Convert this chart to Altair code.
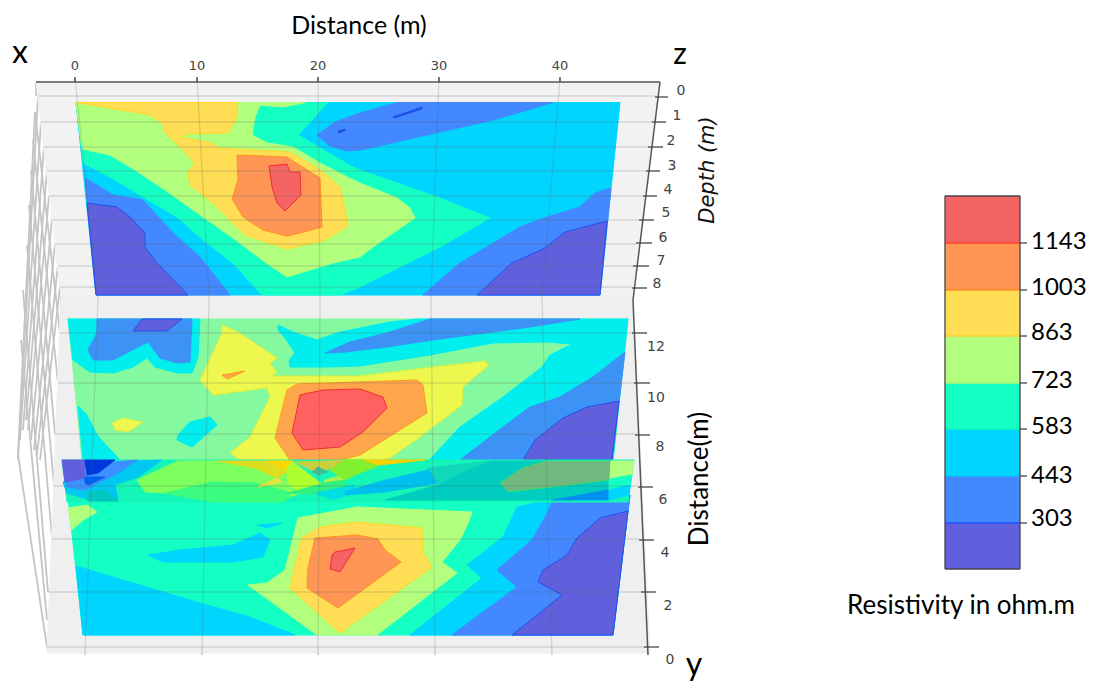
import altair as alt
import pandas as pd

# ---------- palette ----------
DARK, BLUE, CYAN, AQUA, LIME, YELL, ORNG, RED = ("#6060DD", "#4488FF", "#00D5FF", "#14FFC4",
                                                 "#B2FF7E", "#FFDD55", "#FF9655", "#F56464")
M_GREEN, M_CYAN, M_BLUE, M_YELL, M_ORNG, M_RED = ("#85F9A0", "#00EEEE", "#3D92F5", "#EDF74D", "#FFA64D", "#FF6060")

# ---------- panes ----------
pane_top = [(36, 82), (660, 82), (633, 296), (61, 296)]
pane_low = [(61, 296), (633, 296), (650, 653), (47, 653)]

# ---------- top slice contours ----------
t_base = [(76, 102.5), (620, 102.5), (600, 295), (96, 295)]
t_aqua = [(83, 163), (110, 177), (143, 197), (177, 217), (203, 240), (233, 263), (262, 295), (340, 295), (360, 287),
          (440, 247), (490, 218), (437, 197), (360, 170), (353, 167), (320, 148), (298, 135), (328, 102.5), (76, 102.5)]
t_lime = [(76, 102.5), (82, 149), (110, 155), (135, 170), (165, 190), (200, 215), (233, 238), (265, 262), (287, 277),
          (333, 263), (360, 257), (373, 247), (393, 233), (415, 218), (410, 208), (397, 198), (360, 183), (347, 177),
          (320, 163), (293, 147), (267, 143), (252, 135), (255, 117), (260, 105), (283, 107), (305, 102.5)]
t_yell = [(76, 102.5), (237, 102.5), (237, 117), (228, 133), (187, 134), (180, 137), (213, 143), (218, 148), (290, 152),
          (320, 170), (340, 187), (348, 226), (325, 240), (287, 249), (245, 235), (215, 205), (190, 185), (188, 172),
          (195, 163), (178, 145), (165, 133), (163, 124), (150, 115)]
t_orng = [(237, 155), (287, 157), (307, 170), (320, 178), (322, 227), (300, 233), (287, 236), (263, 230), (243, 217),
          (232, 199), (238, 180)]
t_red = [(269, 166), (287, 164), (290, 172), (300, 172), (301, 195), (285, 211), (277, 203), (272, 187)]
t_blue_l = [(85, 178), (113, 195), (143, 200), (173, 233), (200, 257), (230, 295), (96, 295)]
t_dark_l = [(87, 203), (117, 207), (130, 217), (145, 233), (145, 247), (157, 263), (188, 295), (96, 295)]
t_blue_top = [(398, 102.5), (360, 113), (335, 122), (317, 135), (330, 146), (347, 151), (360, 150), (383, 145), (440, 132),
              (493, 120), (553, 102.5)]
t_speck1 = [(338, 131), (345, 129), (345, 130.5), (339, 133)]
t_speck2 = [(393, 117), (422, 107), (422, 109), (394, 118)]
t_blue_r = [(423, 295), (460, 263), (520, 227), (547, 217), (580, 207), (595, 193), (611, 188), (600, 295)]
t_dark_r = [(477, 295), (512, 263), (545, 248), (565, 232), (607, 221), (600, 295)]

# ---------- bottom slice contours ----------
b_base = [(68, 497), (630, 495), (613, 635), (83, 635)]
b_lime_l = [(68, 508), (87, 505), (97, 512), (83, 520), (72, 530)]
b_cyan_l = [(76, 566), (133, 583), (200, 603), (250, 617), (295, 635), (83, 635)]
b_blob = [(148, 555), (180, 550), (233, 545), (260, 533), (270, 540), (263, 557), (233, 562), (163, 562)]
b_blob2 = [(257, 525), (282, 523), (267, 528)]
b_lime = [(298, 518), (357, 507), (472, 512), (468, 523), (460, 540), (442, 562), (457, 573), (377, 635), (317, 635),
          (248, 585), (267, 583), (285, 570), (292, 542)]
b_yell = [(302, 538), (320, 527), (357, 522), (422, 528), (423, 553), (432, 567), (340, 633), (290, 588), (300, 545)]
b_orng = [(315, 538), (357, 535), (378, 539), (385, 550), (401, 562), (338, 608), (307, 588), (308, 568)]
b_red = [(335, 552), (355, 548), (340, 572), (330, 569), (332, 555)]
b_cyan_r = [(517, 507), (503, 537), (467, 565), (482, 578), (410, 635), (613, 635), (630, 495), (558, 498)]
b_blue_r = [(630, 495), (553, 500), (548, 512), (532, 540), (497, 570), (517, 587), (452, 635), (613, 635)]
b_dark_r = [(628, 511), (600, 518), (577, 538), (567, 555), (543, 570), (538, 582), (562, 595), (512, 635), (613, 635)]

# ---------- middle slice contours ----------
m_base = [(68, 319), (628, 319), (612, 470), (83, 470)]
m_cyan_l = [(68, 319), (200, 319), (198, 357), (192, 373), (177, 373), (155, 367), (147, 358), (133, 367), (113, 373),
            (90, 372), (73, 360)]
m_blue_l = [(97, 319), (192, 319), (190, 362), (177, 363), (160, 358), (148, 342), (113, 360), (93, 360), (88, 350), (97, 333)]
m_dark_l = [(142, 319), (182, 319), (167, 331), (133, 331)]
m_cyan_c = [(278, 325), (293, 332), (317, 340), (340, 332), (390, 322), (417, 319), (628, 319), (612, 470), (420, 470),
            (460, 427), (503, 397), (542, 367), (550, 355), (572, 344), (547, 342), (493, 343), (430, 355), (360, 366),
            (330, 367), (290, 367), (289, 360), (295, 353), (285, 338), (278, 330)]
m_blue_c = [(325, 353), (350, 342), (387, 333), (430, 319), (580, 319), (530, 327), (432, 340), (387, 347), (345, 352)]
m_cyan_ll = [(78, 406), (87, 415), (97, 435), (120, 460), (83, 460)]
m_blob_c = [(178, 435), (190, 422), (210, 417), (217, 425), (200, 440), (192, 447), (177, 440)]
m_blob_y = [(112, 423), (123, 418), (143, 422), (128, 432), (115, 430)]
m_yell = [(222, 325), (240, 333), (277, 358), (270, 363), (277, 372), (272, 376), (360, 376), (433, 367), (485, 361),
          (489, 365), (463, 387), (462, 405), (420, 437), (390, 458), (360, 463), (240, 460), (230, 453), (250, 437),
          (270, 397), (267, 388), (213, 395), (200, 380), (222, 333)]
m_orng = [(287, 390), (297, 384), (417, 380), (423, 385), (427, 413), (360, 455), (340, 460), (290, 460), (275, 438)]
m_red = [(300, 395), (323, 390), (360, 389), (383, 397), (387, 408), (363, 432), (340, 447), (303, 450), (292, 433)]
m_orng_s = [(222, 375), (245, 371), (227, 379)]
m_blue_r = [(625, 352), (593, 377), (560, 397), (530, 407), (503, 427), (460, 460), (612, 460)]
m_dark_r = [(619, 401), (587, 407), (563, 418), (535, 440), (523, 460), (612, 460)]

# ---------- horizontal slice (seen nearly edge-on) ----------
s_base = [(62, 460), (634, 460), (628, 502), (67, 502)]
s_cyan_l = [(63, 482), (87, 475), (115, 462), (162, 460), (138, 477), (115, 485), (118, 500), (90, 500), (67, 493)]
s_teal_l = [(87, 492), (105, 490), (118, 501), (88, 501)]
s_blue_l = [(65, 480), (87, 475), (115, 462), (137, 460), (115, 475), (98, 483), (85, 490), (67, 487)]
s_dark_l = [(62, 460), (85, 460), (85, 478), (65, 482)]
s_deep1 = [(85, 460), (115, 460), (98, 473), (87, 475)]
s_deep2 = [(85, 477), (105, 477), (88, 485), (85, 483)]
s_green = [(137, 480), (178, 461), (218, 461), (288, 470), (322, 485), (290, 497), (272, 487), (215, 482), (165, 493), (145, 492)]
s_green2 = [(165, 493), (212, 482), (255, 483), (288, 492), (290, 497), (282, 502), (212, 502)]
s_olive = [(218, 461), (285, 461), (287, 472), (277, 478), (255, 468)]
s_tail = [(277, 478), (258, 487), (282, 482)]
s_gold = [(268, 461), (293, 461), (287, 470)]
s_lime = [(287, 467), (293, 462), (323, 485), (300, 492), (288, 483)]
s_olive2 = [(295, 462), (355, 460), (332, 468), (315, 472)]
s_teal_s = [(312, 472), (318, 467), (328, 472), (318, 475)]
s_lime2 = [(325, 480), (342, 475), (343, 480), (323, 484)]
s_green3 = [(288, 493), (325, 483), (345, 480), (345, 490), (315, 494)]
s_cyan_m = [(315, 493), (355, 485), (355, 493), (332, 500)]
s_ylime = [(345, 460), (363, 460), (378, 466), (355, 475), (345, 480), (330, 470)]
s_gold2 = [(363, 460), (425, 460), (378, 465)]
s_cyan_r = [(345, 492), (378, 482), (428, 470), (458, 467), (438, 483), (385, 492), (345, 495)]
s_teal2 = [(428, 468), (492, 461), (462, 473), (438, 483)]
s_teal = [(385, 500), (438, 485), (462, 473), (492, 461), (545, 461), (522, 468), (500, 483), (512, 492), (545, 488),
          (608, 480), (608, 490), (558, 500)]
s_grey = [(545, 461), (612, 461), (610, 480), (545, 488), (508, 491.7), (500, 483), (522, 468)]
s_rt1 = [(611, 461), (634, 461), (632, 475), (610, 479)]
s_rt2 = [(610, 479), (632, 475), (630, 485), (609, 490)]
s_rt3 = [(609, 490), (630, 485), (629, 495), (608, 500)]
s_blue_r = [(553, 500), (608, 490), (608, 500)]

draw_order = [
    (pane_top, "#F2F2F2", "#F2F2F2"), (pane_low, "#EFEFEF", "#EFEFEF"),
    (t_base, CYAN, CYAN), (t_aqua, AQUA, AQUA), (t_lime, LIME, LIME), (t_yell, YELL, "#FFD820"),
    (t_orng, ORNG, "#FF9020"), (t_red, RED, "#F03030"), (t_blue_l, BLUE, BLUE), (t_dark_l, DARK, "#2050F0"),
    (t_blue_top, BLUE, BLUE), (t_speck1, "#2050E8", "#2050E8"), (t_speck2, "#2050E8", "#2050E8"),
    (t_blue_r, BLUE, BLUE), (t_dark_r, DARK, "#2050F0"),
    (b_base, AQUA, AQUA), (b_lime_l, LIME, LIME), (b_cyan_l, CYAN, CYAN), (b_blob, CYAN, CYAN), (b_blob2, CYAN, CYAN),
    (b_cyan_r, CYAN, CYAN), (b_lime, LIME, LIME), (b_yell, YELL, "#FFD820"), (b_orng, ORNG, "#FF9020"),
    (b_red, RED, "#F03030"), (b_blue_r, BLUE, BLUE), (b_dark_r, DARK, "#2050F0"),
    (m_base, M_GREEN, M_GREEN), (m_cyan_l, M_CYAN, M_CYAN), (m_blue_l, M_BLUE, M_BLUE), (m_dark_l, DARK, "#2050F0"),
    (m_cyan_c, M_CYAN, M_CYAN), (m_blue_c, M_BLUE, M_BLUE), (m_cyan_ll, M_CYAN, M_CYAN), (m_blob_c, M_CYAN, M_CYAN),
    (m_blob_y, M_YELL, "#D8F040"), (m_yell, M_YELL, "#D8F040"), (m_orng, M_ORNG, "#FF9A20"), (m_red, M_RED, "#F03030"),
    (m_orng_s, M_ORNG, "#FF9A20"), (m_blue_r, M_BLUE, M_BLUE), (m_dark_r, DARK, "#2050F0"),
    (s_base, "#14F5B8", "#14F5B8"), (s_cyan_l, "#00C8F0", "#00C8F0"), (s_teal_l, "#00C8C0", "#00C8C0"),
    (s_blue_l, "#3C90FF", "#3C90FF"), (s_dark_l, DARK, DARK), (s_deep1, "#0038DD", "#0038DD"), (s_deep2, "#0060F0", "#0060F0"),
    (s_green, "#7DFF5D", "#7DFF5D"), (s_green2, "#3CFC80", "#3CFC80"), (s_olive, "#DDDD22", "#DDDD22"),
    (s_tail, "#E8E040", "#E8E040"), (s_gold, "#FFD800", "#FFD800"), (s_lime, "#AFFF30", "#AFFF30"),
    (s_olive2, "#C8D040", "#C8D040"), (s_teal_s, "#40C090", "#40C090"), (s_lime2, "#AAF050", "#AAF050"),
    (s_green3, "#30F080", "#30F080"), (s_cyan_m, "#00E0E0", "#00E0E0"), (s_ylime, "#80F030", "#80F030"),
    (s_gold2, "#FFD000", "#FFD000"), (s_cyan_r, "#00C0F0", "#00C0F0"), (s_teal2, "#10D8B8", "#10D8B8"),
    (s_teal, "#00CCC0", "#00CCC0"), (s_grey, "#70B880", "#30E070"), (s_rt1, LIME, LIME), (s_rt2, AQUA, AQUA),
    (s_rt3, CYAN, CYAN), (s_blue_r, "#0090F0", "#0090F0"),
]

# ---------- grid and axis lines (x0, y0, x1, y1) ----------
grid_vertical = [(75, 78, 98, 297), (197, 78, 209, 297), (318, 78, 320, 297), (439, 78, 431, 297), (560, 78, 542, 297),
                 (98, 297, 85, 655), (209, 297, 202, 655), (320, 297, 318, 655), (431, 297, 435, 655), (542, 297, 552, 655)]
grid_horizontal = [(38, 96, 655), (41, 122, 652), (44, 147, 648), (47, 171, 646), (49, 196, 643), (52, 220, 639),
                   (55, 244, 636), (58, 266, 633), (60, 287, 632), (60, 333, 632), (58, 383, 634), (55, 434, 635),
                   (54, 486, 638), (52, 539, 639), (49, 592, 641), (47, 647, 644)]
weave = [(38, 96, 18, 460), (41, 122, 20, 440), (44, 147, 23, 430), (47, 171, 26, 420), (49, 196, 28, 430), (52, 219, 31, 440),
         (55, 244, 34, 450), (58, 265, 37, 455), (60, 287, 40, 460),
         (35, 112, 60, 333), (33, 140, 58, 383), (31, 170, 55, 434), (29, 205, 54, 485), (27, 245, 52, 538),
         (23, 290, 48, 592), (21, 340, 47, 620), (18, 455, 47, 647), (36, 82, 36, 96), (61, 296, 61, 333),
         (35, 112, 18, 455)]
axis_lines = [(36, 82, 660, 82), (660, 82, 633, 300), (633, 300, 648, 655)]
top_ticks = [(75, 77, 75, 82), (197, 77, 197, 82), (318, 77, 318, 82), (439, 77, 439, 82), (560, 77, 560, 82)]
depth_ticks = [(655, 97, 668, 97), (652, 122, 666, 122), (648, 147, 663, 147), (646, 171, 660, 171), (643, 196, 657, 196),
               (639, 220, 654, 220), (636, 243, 652, 243), (633, 266, 649, 266), (632, 288, 647, 288)]
dist_ticks = [(632, 333, 647, 333), (634, 383, 650, 383), (635, 435, 650, 435), (638, 487, 653, 487), (639, 540, 654, 540),
              (641, 592, 656, 592), (644, 647, 659, 647)]

# ---------- colour bar ----------
bar_edges = [196, 243, 290, 336, 383, 429, 476, 523, 569]
bar_colors = [RED, ORNG, YELL, LIME, AQUA, CYAN, BLUE, DARK]
bar_lines = ["#FF4030", "#FF9020", "#FFD030", "#A8F870", "#10F8B8", "#00C8FF", "#1E50FF"]
bar_labels = ["1143", "1003", "863", "723", "583", "443", "303"]
bar_label_y = [242, 288, 333, 381, 427, 476, 519]

# ---------- texts ----------
top_labels = ["0", "10", "20", "30", "40"]
top_label_x = [75, 197, 318, 439, 560]
depth_labels = list("012345678")
depth_label_xy = [(681, 91), (677, 116), (671, 141), (672, 166), (668, 190), (666, 213), (663, 238), (661, 261), (657, 284)]
dist_labels = ["12", "10", "8", "6", "4", "2", "0"]
dist_label_xy = [(656, 347), (656, 398), (660, 447), (663, 500), (665, 553), (668, 606), (670, 660)]

X = alt.X("x:Q", axis=None, scale=alt.Scale(domain=[8, 1088]))
Y = alt.Y("y:Q", axis=None, scale=alt.Scale(domain=[680, 8]))

rows = []
for k, (pts, fill, stroke) in enumerate(draw_order):
    for i, (x, y) in enumerate(pts):
        rows.append({"id": k, "i": i, "x": x, "y": y, "fill": fill, "stroke": stroke})
polys = alt.Chart(pd.DataFrame(rows)).mark_line(interpolate="linear-closed", strokeWidth=1).encode(
    x=X, y=Y, detail="id:N", order="i:Q",
    fill=alt.Fill("fill:N", scale=None), stroke=alt.Stroke("stroke:N", scale=None))


def rules(segs, color, width, opacity=1.0):
    df = pd.DataFrame(segs, columns=["x", "y", "x2", "y2"])
    return alt.Chart(df).mark_rule(color=color, strokeWidth=width, opacity=opacity).encode(x=X, y=Y, x2="x2:Q", y2="y2:Q")


def texts(items, size, color="#000000", font="Lato", angle=0, align="center", style="normal"):
    df = pd.DataFrame(items, columns=["t", "x", "y"])
    return alt.Chart(df).mark_text(fontSize=size, color=color, font=font, angle=angle, align=align,
                                   baseline="middle", fontStyle=style).encode(x=X, y=Y, text="t:N")


bar_df = pd.DataFrame({"x": [945] * 8, "x2": [1020] * 8, "y": bar_edges[:-1], "y2": bar_edges[1:], "c": bar_colors})
bar = alt.Chart(bar_df).mark_rect().encode(x=X, x2="x2:Q", y=Y, y2="y2:Q", color=alt.Color("c:N", scale=None))
bar_sep = [(945, e, 1020, e) for e in bar_edges[1:-1]]
sep_df = pd.DataFrame(bar_sep, columns=["x", "y", "x2", "y2"]).assign(c=bar_lines)
seps = alt.Chart(sep_df).mark_rule(strokeWidth=1.5).encode(x=X, y=Y, x2="x2:Q", y2="y2:Q", color=alt.Color("c:N", scale=None))
frame = [(945, 196, 1020, 196), (1020, 196, 1020, 569), (1020, 569, 945, 569), (945, 569, 945, 196)]
bar_ticks = [(1020, e, 1027, e) for e in bar_edges[1:-1]]
grid_all = grid_vertical + [(a, b, c, b) for a, b, c in grid_horizontal]

chart = alt.layer(
    rules(weave, "#C4C4C4", 1.8),
    rules(grid_all, "#CCCCCC", 1.5),
    polys,
    rules(grid_all, "#606060", 1.3, 0.2),
    rules(axis_lines + top_ticks, "#555555", 1.5),
    rules(depth_ticks + dist_ticks, "#444444", 1.3),
    texts(list(zip(top_labels, top_label_x, [66] * 5)), 13, "#444444", "DejaVu Sans"),
    texts([(t, x, y) for t, (x, y) in zip(depth_labels, depth_label_xy)], 14, "#444444", "DejaVu Sans"),
    texts([(t, x, y) for t, (x, y) in zip(dist_labels, dist_label_xy)], 14, "#444444", "DejaVu Sans"),
    texts([("Distance (m)", 359, 26)], 25),
    texts([("x", 20, 53)], 32),
    texts([("z", 680, 55)], 30),
    texts([("y", 694, 665)], 32),
    texts([("Depth (m)", 708, 170)], 21, "#111111", "DejaVu Sans", angle=270, style="italic"),
    texts([("Distance(m)", 700, 479)], 26, angle=270),
    bar, seps,
    rules(frame, "#444444", 1.3),
    rules(bar_ticks, "#444444", 1.3),
    texts([(t, 1031, y) for t, y in zip(bar_labels, bar_label_y)], 24, align="left"),
    texts([("Resistivity in ohm.m", 961, 606)], 26),
).properties(width=1080, height=672, padding=0, background="white").configure_view(stroke=None)

chart.save("out.html", embed_options={"renderer": "svg", "actions": False})
